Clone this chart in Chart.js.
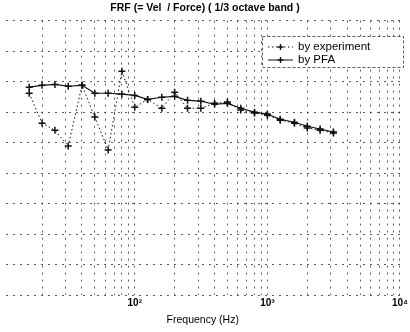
<!DOCTYPE html>
<html><head><meta charset="utf-8">
<script src="https://cdn.jsdelivr.net/npm/chart.js@4"></script>
<style>html,body{margin:0;padding:0;background:#fff}#w{width:410px;height:332px;position:relative}</style>
</head><body><div id="w"><canvas id="c"></canvas></div>
<script>
const freqs = [16,20,25,31.5,40,50,63,80,100,125,160,200,250,315,400,500,630,800,1000,1250,1600,2000,2500,3150];
const experiment = [-63.8,-73.6,-75.9,-81.1,-61.2,-71.6,-82.4,-56.6,-68.4,-65.8,-68.7,-63.5,-68.7,-68.7,-67.1,-66.7,-69.3,-70.3,-71.0,-72.6,-73.6,-75.2,-75.9,-76.8];
const pfa = [-61.8,-61.2,-60.9,-61.5,-61.2,-63.8,-63.8,-64.1,-64.5,-65.8,-65.1,-64.8,-66.1,-66.4,-67.4,-67.1,-68.7,-70.0,-70.6,-72.3,-73.3,-74.6,-75.5,-76.5];
const xTickValues = [20,30,40,50,60,70,80,90,100,200,300,400,500,600,700,800,900,1000,2000,3000,4000,5000,6000,7000,8000,9000,10000];
const xTickLabels = {100:'10\u00B2',1000:'10\u00B3',10000:'10\u2074'};
const yTickValues = [-130,-120,-110,-100,-90,-80,-70,-60,-50,-40];
const seriesNames = ['by experiment','by PFA'];
const titleText = 'FRF (= Vel  / Force) ( 1/3 octave band )';
const xTitle = 'Frequency (Hz)';

const FONT = '"Liberation Sans", Arial, sans-serif';

const legendPlugin = {
  id: 'boxLegend',
  afterDraw(chart) {
    const ctx = chart.ctx;
    const x0 = 262, y0 = 36, x1 = 404, y1 = 68;
    ctx.save();
    ctx.fillStyle = '#fff';
    ctx.fillRect(x0, y0, x1 - x0, y1 - y0);
    ctx.strokeStyle = '#333';
    ctx.lineWidth = 0.8;
    ctx.setLineDash([3, 2]);
    ctx.strokeRect(x0 + 0.5, y0 + 0.5, x1 - x0 - 1, y1 - y0 - 1);
    ctx.setLineDash([]);
    chart.data.datasets.forEach((ds, i) => {
      const yy = 47 + i * 13;
      ctx.strokeStyle = '#111';
      ctx.lineWidth = 1;
      ctx.setLineDash(ds.borderDash || []);
      ctx.beginPath(); ctx.moveTo(268, yy); ctx.lineTo(293, yy); ctx.stroke();
      ctx.setLineDash([]);
      ctx.lineWidth = 1.4;
      ctx.beginPath(); ctx.moveTo(280.5, yy - 3); ctx.lineTo(280.5, yy + 3);
      ctx.moveTo(277.5, yy); ctx.lineTo(283.5, yy); ctx.stroke();
      ctx.fillStyle = '#000';
      ctx.font = '11.5px ' + FONT;
      ctx.textBaseline = 'middle';
      ctx.fillText(ds.label, 298, yy);
    });
    ctx.restore();
  }
};

new Chart(document.getElementById('c'), {
  type: 'line',
  data: {
    datasets: [
      { label: seriesNames[0], data: freqs.map((f, i) => ({x: f, y: experiment[i]})),
        borderColor: '#111', backgroundColor: '#111', borderWidth: 1, borderDash: [1.5, 2.5],
        pointStyle: 'cross', pointRadius: 3.5, pointBorderWidth: 1.5, tension: 0 },
      { label: seriesNames[1], data: freqs.map((f, i) => ({x: f, y: pfa[i]})),
        borderColor: '#111', backgroundColor: '#111', borderWidth: 1.2,
        pointStyle: 'cross', pointRadius: 3.5, pointBorderWidth: 1.5, tension: 0 }
    ]
  },
  options: {
    responsive: true, maintainAspectRatio: false, animation: false,
    layout: { padding: { left: 0, right: 0, top: 0, bottom: 6 } },
    plugins: {
      legend: { display: false },
      tooltip: { enabled: false },
      title: { display: true, text: titleText, color: '#000',
        font: { family: FONT, size: 10.5, weight: 'bold' }, padding: { top: 2, bottom: 6 } }
    },
    scales: {
      x: {
        type: 'logarithmic', min: 10.6, max: 10000,
        afterBuildTicks: s => { s.ticks = xTickValues.map(v => ({value: v})); },
        ticks: { autoSkip: false, maxRotation: 0, color: '#000', padding: 2,
          font: { family: FONT, size: 10, weight: 'bold' },
          callback: v => xTickLabels[v] || '' },
        grid: { color: '#333', lineWidth: 0.8, drawTicks: false },
        border: { display: false, dash: [2, 5] },
        title: { display: true, text: xTitle, color: '#000',
          font: { family: FONT, size: 10.5 }, padding: { top: 2, bottom: 0 } }
      },
      y: {
        type: 'linear', min: -130, max: -40,
        afterBuildTicks: s => { s.ticks = yTickValues.map(v => ({value: v})); },
        ticks: { display: false },
        grid: { color: '#333', lineWidth: 0.8, drawTicks: false },
        border: { display: false, dash: [2, 5] }
      }
    }
  },
  plugins: [legendPlugin]
});
</script>
</body></html>
